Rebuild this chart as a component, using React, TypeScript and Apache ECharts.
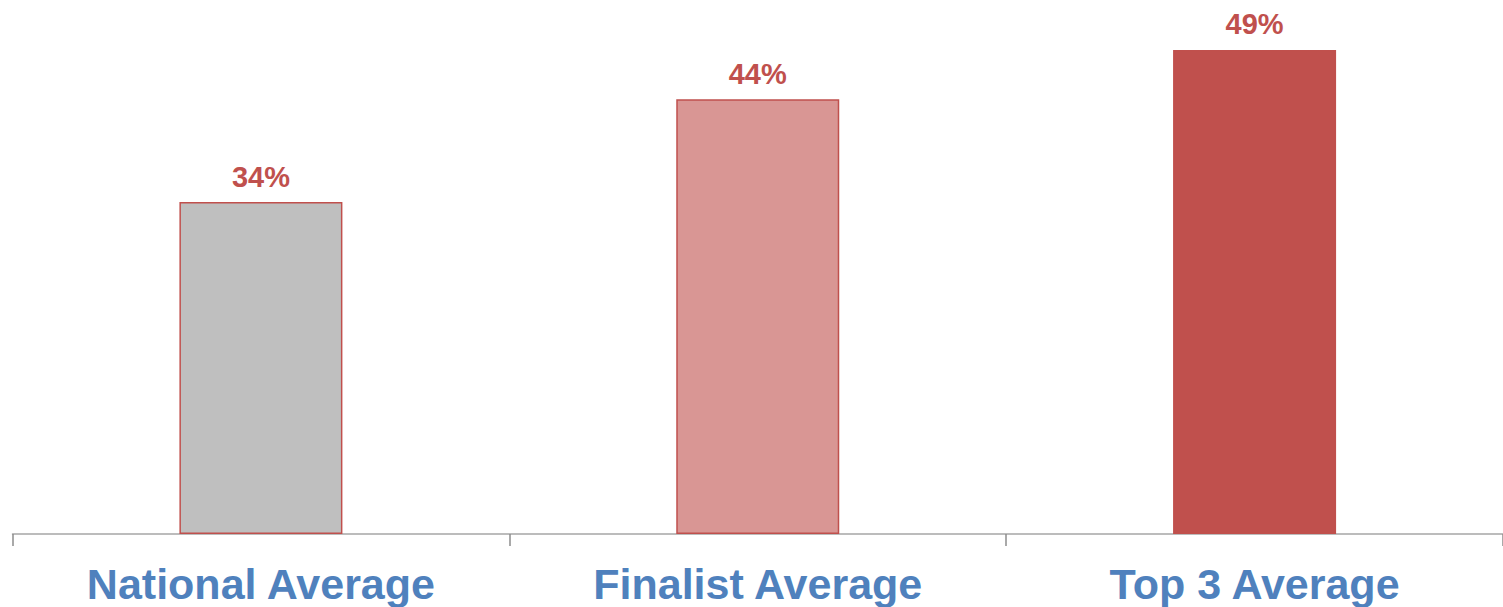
import React, { useEffect, useRef } from "react";
import * as echarts from "echarts";

const categories = ["National Average", "Finalist Average", "Top 3 Average"];
const values = [33.6, 44, 49];
const barColors = ["#bfbfbf", "#d99694", "#c0504d"];

export default function App() {
  const ref = useRef<HTMLDivElement>(null);
  useEffect(() => {
    if (!ref.current) return;
    const chart = echarts.init(ref.current, undefined, { renderer: "svg" });
    chart.setOption({
      animation: false,
      grid: { left: 12.5, right: 0, top: 40, bottom: 73, containLabel: false },
      xAxis: {
        type: "category",
        data: categories,
        axisLine: { lineStyle: { color: "#a6a6a6", width: 1.5 } },
        axisTick: { show: true, length: 12, lineStyle: { color: "#8c8c8c", width: 1.5 } },
        axisLabel: {
          color: "#4f81bd",
          fontFamily: "Liberation Sans, Arial, sans-serif",
          fontWeight: "bold",
          fontSize: 43,
          margin: 28,
        },
      },
      yAxis: {
        type: "value",
        min: 0,
        max: 50,
        show: false,
        splitLine: { show: false },
      },
      series: [
        {
          type: "bar",
          barWidth: 163,
          data: values.map((v, i) => ({
            value: v,
            itemStyle: { color: barColors[i], borderColor: "#c0504d", borderWidth: 1.5 },
          })),
          label: {
            show: true,
            position: "top",
            distance: 11,
            formatter: (p: any) => Math.round(p.value) + "%",
            color: "#c0504d",
            fontFamily: "Liberation Sans, Arial, sans-serif",
            fontWeight: "bold",
            fontSize: 29,
          },
        },
      ],
    });
    return () => chart.dispose();
  }, []);
  return (
    <div
      ref={ref}
      style={{ position: "fixed", left: 0, top: 0, width: 1503, height: 607, background: "#ffffff" }}
    />
  );
}
